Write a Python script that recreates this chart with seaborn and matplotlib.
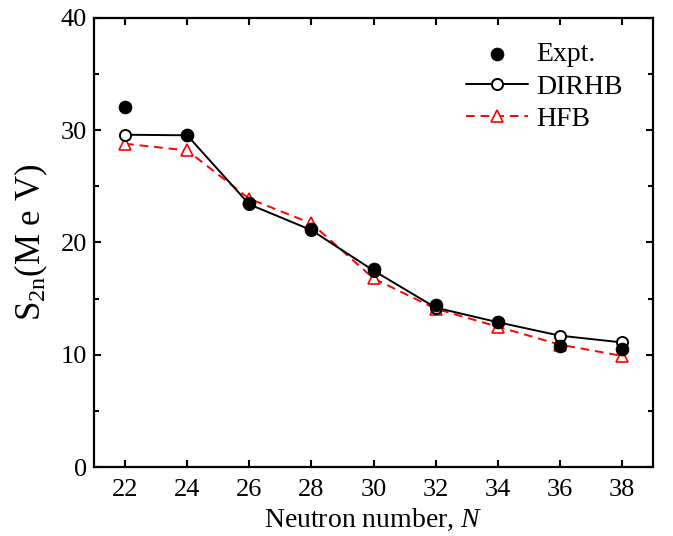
import numpy as np
import pandas as pd
import matplotlib
matplotlib.use("Agg")
import matplotlib.pyplot as plt
import seaborn as sns
from matplotlib.ticker import MultipleLocator

N = [22, 24, 26, 28, 30, 32, 34, 36, 38]
expt = [32.07, 29.6, 23.5, 21.2, 17.6, 14.4, 12.9, 10.8, 10.5]
expt_err = [0.3, 0.2, 0.3, 0.3, 0.3, 0.3, 0.3, 0.3, 0.3]
dirhb = [29.6, 29.55, 23.4, 21.1, 17.5, 14.2, 12.9, 11.7, 11.1]
hfb = [28.8, 28.2, 23.9, 21.7, 16.8, 14.1, 12.5, 10.9, 9.9]

sns.set_style("ticks")
plt.rcParams['font.family'] = ['Liberation Serif', 'DejaVu Serif']
plt.rcParams['mathtext.fontset'] = 'custom'
plt.rcParams['mathtext.rm'] = 'Liberation Serif'
plt.rcParams['mathtext.it'] = 'Liberation Serif:italic'
for k in ['text.color', 'axes.labelcolor', 'xtick.color', 'ytick.color', 'axes.edgecolor']:
    plt.rcParams[k] = 'black'

fig = plt.figure(figsize=(6.73, 5.36), dpi=100)
ax = fig.add_axes([94/673, 1 - 467/536, (653-94)/673, (467-18)/536])

df = pd.DataFrame({"N": N, "Expt": expt, "DIRHB": dirhb, "HFB": hfb})

sns.lineplot(data=df, x="N", y="HFB", ax=ax, color="red", linestyle=(0, (4.5, 3.0)),
             lw=1.4, marker="^", markersize=8, markerfacecolor="white",
             markeredgecolor="red", markeredgewidth=1.2, label="HFB", zorder=2)
sns.lineplot(data=df, x="N", y="DIRHB", ax=ax, color="black", lw=1.4,
             marker="o", markersize=8, markerfacecolor="white",
             markeredgecolor="black", markeredgewidth=1.4, label="DIRHB", zorder=3)
ax.errorbar(N, expt, yerr=expt_err, fmt="none", ecolor="black", elinewidth=1.2,
            capsize=3.5, capthick=1.2, zorder=4)
sns.scatterplot(data=df, x="N", y="Expt", ax=ax, color="black", s=85,
                edgecolor="black", linewidth=0.6, label="Expt.", zorder=5)

ax.set_xlim(21, 39)
ax.set_ylim(0, 40)
ax.set_xticks(N)
ax.yaxis.set_major_locator(MultipleLocator(10))
ax.yaxis.set_minor_locator(MultipleLocator(5))
ax.tick_params(which="both", direction="in", top=True, right=True, width=1.5,
               color="black")
ax.tick_params(which="major", length=5, labelsize=19)
ax.tick_params(which="minor", length=3.5)
ax.tick_params(axis="x", pad=9)
ax.tick_params(axis="y", pad=5)
for s in ax.spines.values():
    s.set_linewidth(1.6)
    s.set_color("black")

ax.set_xlabel(r"Neutron number, $\mathit{N}$", fontsize=20, labelpad=4)
ax.set_ylabel(r"S$_{\mathrm{2n}}$(M e V)", fontsize=25, labelpad=8)

h, l = ax.get_legend_handles_labels()
order = [l.index("Expt."), l.index("DIRHB"), l.index("HFB")]
ax.legend([h[i] for i in order], [l[i] for i in order], loc="upper right",
          frameon=False, fontsize=20, handlelength=2.2, handletextpad=0.3,
          labelspacing=0.25, borderpad=0.2, bbox_to_anchor=(0.98, 0.99))

fig.savefig("out.png", dpi=100)
